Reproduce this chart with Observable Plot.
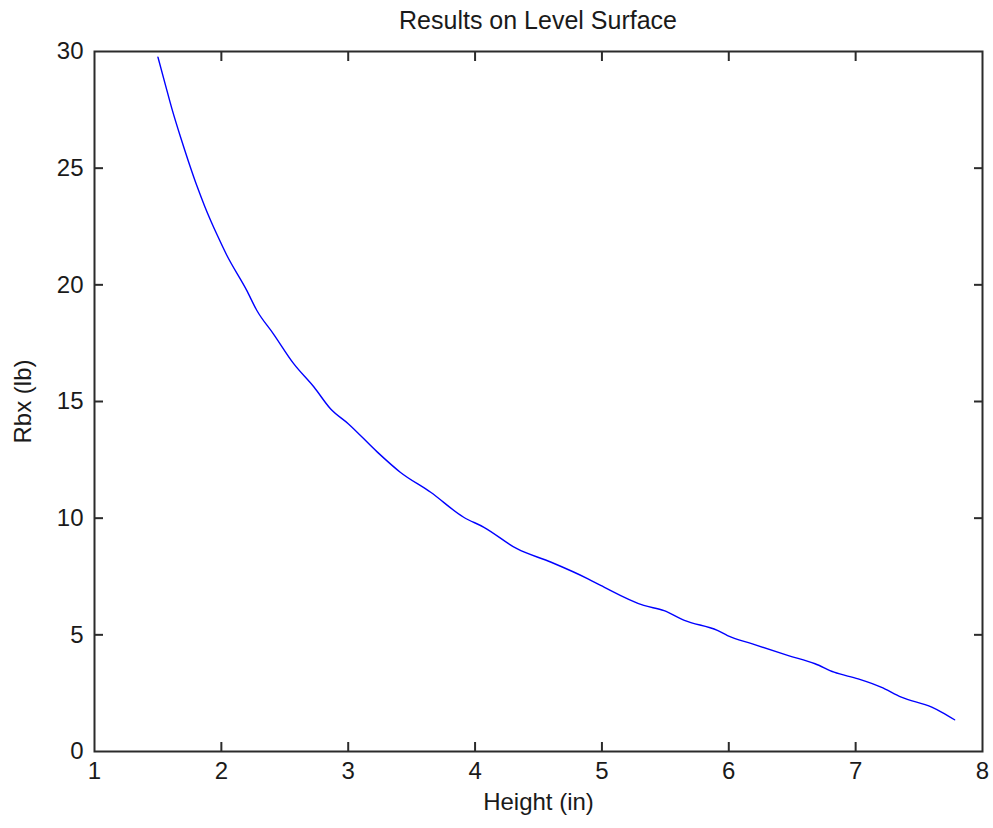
<!DOCTYPE html>
<html>
<head>
<meta charset="utf-8">
<script src="https://cdn.jsdelivr.net/npm/d3@7"></script>
<script src="https://cdn.jsdelivr.net/npm/@observablehq/plot@0.6"></script>
<style>
  html, body { margin: 0; padding: 0; background: #fff; }
  #title { height: 38px; line-height: 40px; box-sizing: border-box; padding-left: 94px; padding-right: 11px;
           text-align: center; font-family: "Liberation Sans", Arial, sans-serif; font-size: 25px; color: #1a1a1a; }
  svg { display: block; }
</style>
</head>
<body>
<div id="title">Results on Level Surface</div>
<div id="chart"></div>
<script>
const heightIn = [1.50, 1.56, 1.61, 1.68, 1.74, 1.81, 1.87, 1.97, 2.04, 2.20, 2.28, 2.41, 2.57, 2.73, 2.86, 3.00,
  3.23, 3.41, 3.65, 3.91, 4.07, 4.33, 4.60, 4.89, 4.99, 5.33, 5.49, 5.65, 5.91, 5.99, 6.18, 6.47,
  6.68, 6.83, 7.02, 7.20, 7.36, 7.60, 7.68, 7.78];
const rbx = [29.76, 28.55, 27.55, 26.30, 25.30, 24.20, 23.35, 22.10, 21.30, 19.76, 18.90, 17.90, 16.62, 15.62, 14.69, 14.05,
  12.83, 11.97, 11.11, 10.04, 9.61, 8.69, 8.11, 7.40, 7.12, 6.26, 6.04, 5.62, 5.19, 4.97, 4.62, 4.11,
  3.76, 3.40, 3.11, 2.76, 2.33, 1.90, 1.68, 1.36];
const xTicks = [1, 2, 3, 4, 5, 6, 7, 8];
const yTicks = [0, 5, 10, 15, 20, 25, 30];
const xLabel = "Height (in)";
const yLabel = "Rbx (lb)";

const data = heightIn.map((h, i) => ({h, r: rbx[i]}));
const innerX = xTicks.slice(1, -1);
const innerY = yTicks.slice(1, -1);
const fmt = d3.format("d");

const chart = Plot.plot({
  width: 993,
  height: 790,
  marginTop: 13,
  marginBottom: 77,
  marginLeft: 94,
  marginRight: 11,
  style: {fontFamily: "'Liberation Sans', Arial, sans-serif", fontSize: "24px", color: "#1a1a1a", background: "#fff"},
  x: {domain: [1, 8]},
  y: {domain: [0, 30]},
  marks: [
    Plot.line(data, {x: "h", y: "r", stroke: "#0000ff", strokeWidth: 1.4, curve: "monotone-x"}),
    Plot.frame({stroke: "#2b2b2b", strokeWidth: 2}),
    Plot.axisX({anchor: "bottom", ticks: xTicks, tickFormat: fmt, tickSize: 0, tickPadding: 10, label: xLabel, labelAnchor: "center", labelOffset: 58, labelArrow: "none"}),
    Plot.axisY({anchor: "left", ticks: yTicks, tickFormat: fmt, tickSize: 0, tickPadding: 11, label: yLabel, labelAnchor: "center", labelOffset: 81, labelArrow: "none"}),
    Plot.axisX({anchor: "bottom", ticks: innerX, tickSize: -9, fill: "none", label: null, stroke: "#2b2b2b", strokeWidth: 2}),
    Plot.axisX({anchor: "top", ticks: innerX, tickSize: -9, fill: "none", label: null, stroke: "#2b2b2b", strokeWidth: 2}),
    Plot.axisY({anchor: "left", ticks: innerY, tickSize: -9, fill: "none", label: null, stroke: "#2b2b2b", strokeWidth: 2}),
    Plot.axisY({anchor: "right", ticks: innerY, tickSize: -9, fill: "none", label: null, stroke: "#2b2b2b", strokeWidth: 2})
  ]
});
document.getElementById("chart").appendChild(chart);
</script>
</body>
</html>
